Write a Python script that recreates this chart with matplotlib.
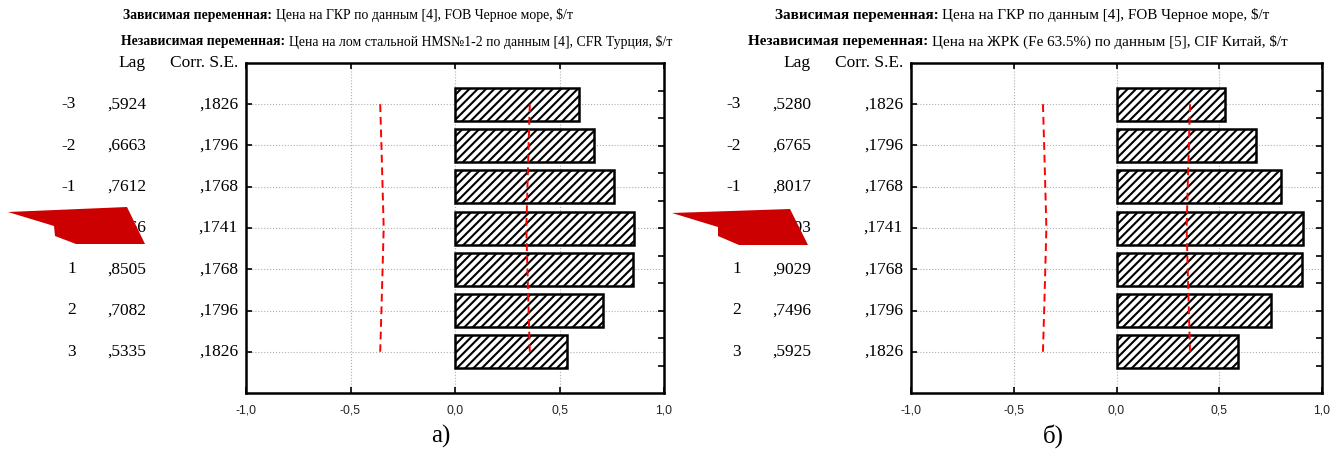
"""
Cross-correlation charts (Statistica style), two panels side by side.
Saves out.png.
"""

import matplotlib.pyplot as plt
import matplotlib.transforms as mtransforms
from matplotlib.patches import Polygon
import numpy as np

W, H = 1342, 473

# ── Data ──────────────────────────────────────────────────────────────

lags = [-3, -2, -1, 0, 1, 2, 3]
corr_a = [0.5924, 0.6663, 0.7612, 0.8566, 0.8505, 0.7082, 0.5335]
corr_b = [0.5280, 0.6765, 0.8017, 0.9093, 0.9029, 0.7496, 0.5925]
se_vals = [0.1826, 0.1796, 0.1768, 0.1741, 0.1768, 0.1796, 0.1826]

dep_label = "Цена на ГКР по данным [4], FOB Черное море, $/т"
indep_a = "Цена на лом стальной HMS№1-2 по данным [4], CFR Турция, $/т"
indep_b = "Цена на ЖРК (Fe 63.5%) по данным [5], CIF Китай, $/т"
xticks = [-1.0, -0.5, 0.0, 0.5, 1.0]
xtick_labels = ["-1,0", "-0,5", "0,0", "0,5", "1,0"]

SERIF = "Liberation Serif"
SANS = "Liberation Sans"
plt.rcParams["hatch.linewidth"] = 1.5


def px(x, y):
    """pixel position (from top-left) -> figure fraction"""
    return x / W, 1 - y / H


def fmt(v):
    return "," + f"{v:.4f}".split(".")[1]


def panel(fig, x0, x1, corr, indep, title_x1, title_x2, title_fs, tag, tag_x):
    top, bottom = 63, 393
    ax = fig.add_axes([x0 / W, 1 - bottom / H, (x1 - x0) / W, (bottom - top) / H])
    ax.set_xlim(-1, 1)
    ax.set_ylim(4, -4)

    ax.barh(lags, corr, height=0.8, left=0, color="white", edgecolor="black",
            hatch="////", linewidth=1.8, zorder=3)

    lim = [1.96 * s for s in se_vals]
    ax.plot(lim, lags, color="red", ls=(0, (4, 2.5)), lw=1.4, zorder=4)
    ax.plot([-v for v in lim], lags, color="red", ls=(0, (4, 2.5)), lw=1.4, zorder=4)

    ax.set_xticks(xticks)
    ax.set_xticklabels(xtick_labels, fontfamily=SANS, fontsize=8.8, color="#222222")
    ax.set_yticks(lags)
    ax.set_yticklabels([])
    ax.tick_params(direction="in", top=True, length=4, width=1.2, pad=8)
    ax.grid(color="#b0b0b0", ls=":", lw=0.8, zorder=0)
    for s in ax.spines.values():
        s.set_linewidth(1.8)

    # right-hand axis ticks (Statistica draws its own scale there)
    ax2 = ax.twinx()
    ax2.set_ylim(12, 0)
    ax2.set_yticks(np.arange(1, 12))
    ax2.set_yticklabels([])
    ax2.tick_params(direction="in", length=4, width=1.2, left=False)
    for s in ax2.spines.values():
        s.set_visible(False)

    # table to the left of the chart
    tr = mtransforms.blended_transform_factory(fig.transFigure, ax.transData)
    col_lag, col_corr, col_se = x0 - 170, x0 - 100, x0 - 8
    for lag, c, s in zip(lags, corr, se_vals):
        for cx, t in [(col_lag, str(lag)), (col_corr, fmt(c)), (col_se, fmt(s))]:
            ax.text(cx / W, lag, t, transform=tr, ha="right", va="center",
                    fontfamily=SERIF, fontsize=12.5)
    fig.text(*px(col_corr, 63), "Lag", ha="right", va="center",
             fontfamily=SERIF, fontsize=12.5)
    fig.text(*px(col_se, 63), "Corr. S.E.", ha="right", va="center",
             fontfamily=SERIF, fontsize=12.5)

    # two-line title, bold caption + regular text
    for (tx, ty), cap, body in [((title_x1, 15), "Зависимая переменная:", dep_label),
                                ((title_x2, 42), "Независимая переменная:", indep)]:
        t = fig.text(*px(tx, ty), cap + " ", ha="left", va="center",
                     fontfamily=SERIF, fontsize=title_fs, fontweight="bold")
        fig.canvas.draw()
        bb = t.get_window_extent()
        fig.text(bb.x1 / W, 1 - ty / H, body, ha="left", va="center",
                 fontfamily=SERIF, fontsize=title_fs)

    fig.text(*px(tag_x, 436), tag, ha="center", va="center",
             fontfamily=SERIF, fontsize=18)


fig = plt.figure(figsize=(W / 100, H / 100), dpi=100)
fig.patch.set_facecolor("white")

panel(fig, 246, 664, corr_a, indep_a, 123, 121, 9.9, "а)", 441)
panel(fig, 911, 1322, corr_b, indep_b, 775, 748, 10.9, "б)", 1053)

# red pointer shapes pasted over the Lag 0 row in the source image
for pts in ([(8, 212), (127, 207), (145, 244), (76, 244), (55, 236), (54, 226)],
            [(672, 213), (790, 209), (808, 245), (739, 245), (718, 236), (718, 227)]):
    fig.patches.append(Polygon([px(x, y) for x, y in pts], closed=True,
                               transform=fig.transFigure, facecolor="#cc0000",
                               edgecolor="none", zorder=10))

fig.savefig("out.png", dpi=100, facecolor="white")
